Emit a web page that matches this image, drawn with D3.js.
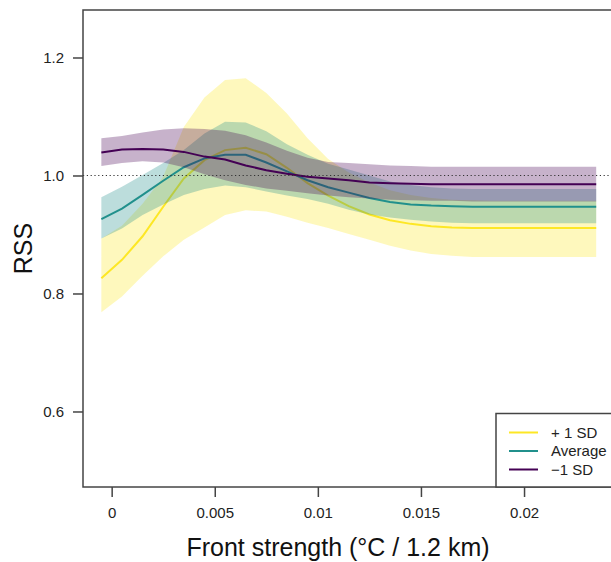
<!DOCTYPE html>
<html lang="en">
<head>
    <meta charset="UTF-8">
    <title>RSS vs front strength</title>
    <script src="https://d3js.org/d3.v7.min.js"></script>
    <style>
        body { margin: 0; background: #fff; font-family: "Liberation Sans", Arial, sans-serif; }
        svg { display: block; }
        .tick-label { font-size: 15px; fill: #222; }
        .axis-title { font-size: 25px; fill: #111; }
        .legend-text { font-size: 15px; fill: #222; }
    </style>
</head>
<body>
    <svg width="611" height="562"></svg>

    <script>
        // front strength grid (°C / 1.2 km)
        const xs = [-0.0005, 0.0005, 0.0015, 0.0025, 0.0035, 0.0045, 0.0055, 0.0065, 0.0075, 0.0085,
                    0.0095, 0.0105, 0.0115, 0.0125, 0.0135, 0.0145, 0.0155, 0.0165, 0.0175, 0.0185,
                    0.0195, 0.0205, 0.0215, 0.0225, 0.0235];

        // + 1 SD
        const plusMean = [0.826, 0.857, 0.897, 0.947, 0.995, 1.026, 1.043, 1.047, 1.036, 1.013,
                          0.987, 0.966, 0.948, 0.934, 0.924, 0.918, 0.914, 0.912, 0.911, 0.911,
                          0.911, 0.911, 0.911, 0.911, 0.911];
        const plusHi = [0.893, 0.915, 0.952, 0.998, 1.082, 1.132, 1.162, 1.165, 1.140, 1.105,
                        1.063, 1.028, 1.005, 0.988, 0.975, 0.967, 0.962, 0.959, 0.958, 0.957,
                        0.957, 0.957, 0.957, 0.957, 0.957];
        const plusLo = [0.768, 0.795, 0.830, 0.863, 0.891, 0.912, 0.933, 0.941, 0.939, 0.930,
                        0.920, 0.911, 0.901, 0.891, 0.881, 0.873, 0.867, 0.864, 0.862, 0.862,
                        0.862, 0.862, 0.862, 0.862, 0.862];

        // Average
        const avgMean = [0.926, 0.944, 0.967, 0.991, 1.014, 1.029, 1.035, 1.035, 1.022, 1.007,
                         0.992, 0.980, 0.971, 0.962, 0.955, 0.951, 0.949, 0.948, 0.947, 0.947,
                         0.947, 0.947, 0.947, 0.947, 0.947];
        const avgHi = [0.963, 0.981, 1.001, 1.021, 1.043, 1.071, 1.091, 1.090, 1.075, 1.053,
                       1.035, 1.020, 1.010, 1.000, 0.990, 0.984, 0.980, 0.978, 0.977, 0.977,
                       0.977, 0.977, 0.977, 0.977, 0.977];
        const avgLo = [0.893, 0.910, 0.933, 0.951, 0.967, 0.977, 0.983, 0.980, 0.973, 0.966,
                       0.960, 0.952, 0.942, 0.934, 0.929, 0.925, 0.922, 0.920, 0.919, 0.919,
                       0.919, 0.919, 0.919, 0.919, 0.919];

        // -1 SD
        const minusMean = [1.039, 1.044, 1.045, 1.044, 1.040, 1.032, 1.027, 1.017, 1.009, 1.003,
                           0.998, 0.995, 0.992, 0.988, 0.987, 0.986, 0.985, 0.985, 0.985, 0.985,
                           0.985, 0.985, 0.985, 0.985, 0.985];
        const minusHi = [1.063, 1.067, 1.073, 1.078, 1.080, 1.079, 1.076, 1.068, 1.056, 1.042,
                         1.030, 1.023, 1.021, 1.019, 1.017, 1.016, 1.015, 1.015, 1.015, 1.015,
                         1.015, 1.015, 1.015, 1.015, 1.015];
        const minusLo = [1.016, 1.021, 1.024, 1.022, 1.014, 1.002, 0.992, 0.984, 0.978, 0.974,
                         0.970, 0.966, 0.963, 0.961, 0.959, 0.958, 0.957, 0.957, 0.956, 0.956,
                         0.956, 0.956, 0.956, 0.956, 0.956];

        const xTicks = [0, 0.005, 0.01, 0.015, 0.02];
        const xTickLabels = ["0", "0.005", "0.01", "0.015", "0.02"];
        const yTicks = [0.6, 0.8, 1.0, 1.2];
        const yTickLabels = ["0.6", "0.8", "1.0", "1.2"];

        const series = [
            { name: "+ 1 SD", color: "#FDE725", mean: plusMean, lo: plusLo, hi: plusHi },
            { name: "Average", color: "#21908C", mean: avgMean, lo: avgLo, hi: avgHi },
            { name: "\u22121 SD", color: "#440154", mean: minusMean, lo: minusLo, hi: minusHi }
        ];

        const svg = d3.select("svg");
        const plotL = 83, plotR = 616, plotT = 10, plotB = 487;

        const x = d3.scaleLinear().domain([-0.00139, 0.02446]).range([plotL, plotR]);
        const y = d3.scaleLinear().domain([0.472, 1.2805]).range([plotB, plotT]);

        const area = d3.area().x((d, i) => x(xs[i])).y0(d => y(d[0])).y1(d => y(d[1]));
        const line = d3.line().x((d, i) => x(xs[i])).y(d => y(d));

        // bands + lines, yellow first so purple sits on top
        series.forEach(s => {
            svg.append("path")
                .datum(s.lo.map((v, i) => [v, s.hi[i]]))
                .attr("d", area)
                .attr("fill", s.color)
                .attr("fill-opacity", 0.3);
            svg.append("path")
                .datum(s.mean)
                .attr("d", line)
                .attr("fill", "none")
                .attr("stroke", s.color)
                .attr("stroke-width", 2);
        });

        // reference line at RSS = 1
        svg.append("line")
            .attr("x1", plotL).attr("x2", plotR)
            .attr("y1", y(1)).attr("y2", y(1))
            .attr("stroke", "#333").attr("stroke-width", 1.2)
            .attr("stroke-dasharray", "1.2,2.6");

        // frame
        svg.append("rect")
            .attr("x", plotL).attr("y", plotT)
            .attr("width", plotR - plotL).attr("height", plotB - plotT)
            .attr("fill", "none").attr("stroke", "#444").attr("stroke-width", 1.5);

        // x axis
        const xAxis = svg.append("g").attr("transform", `translate(0,${plotB})`)
            .call(d3.axisBottom(x).tickValues(xTicks).tickSize(10).tickFormat((d, i) => xTickLabels[i]));
        xAxis.select(".domain").remove();
        xAxis.selectAll(".tick line").attr("stroke", "#444").attr("stroke-width", 1.5);
        xAxis.selectAll(".tick text").attr("class", "tick-label").attr("y", 20).attr("dy", "0.71em")
            .style("font-family", "'Liberation Sans', Arial, sans-serif");

        // y axis
        const yAxis = svg.append("g").attr("transform", `translate(${plotL},0)`)
            .call(d3.axisLeft(y).tickValues(yTicks).tickSize(10).tickFormat((d, i) => yTickLabels[i]));
        yAxis.select(".domain").remove();
        yAxis.selectAll(".tick line").attr("stroke", "#444").attr("stroke-width", 1.5);
        yAxis.selectAll(".tick text").attr("class", "tick-label").attr("x", -19)
            .style("font-family", "'Liberation Sans', Arial, sans-serif");

        // titles
        svg.append("text").attr("class", "axis-title")
            .attr("x", 338).attr("y", 556).attr("text-anchor", "middle")
            .text("Front strength (\u00B0C / 1.2 km)");
        svg.append("text").attr("class", "axis-title")
            .attr("transform", `translate(31.5,${(plotT + plotB) / 2}) rotate(-90)`)
            .attr("text-anchor", "middle")
            .text("RSS");

        // legend
        const legend = svg.append("g");
        legend.append("rect")
            .attr("x", 496).attr("y", 413.5).attr("width", 130).attr("height", plotB - 413.5)
            .attr("fill", "#fff").attr("stroke", "#444").attr("stroke-width", 1.5);
        const legendY = [432.5, 451, 469.5];
        series.forEach((s, i) => {
            legend.append("line")
                .attr("x1", 509).attr("x2", 538)
                .attr("y1", legendY[i]).attr("y2", legendY[i])
                .attr("stroke", s.color).attr("stroke-width", 2);
            legend.append("text").attr("class", "legend-text")
                .attr("x", 551).attr("y", legendY[i]).attr("dy", "0.35em")
                .text(s.name);
        });
    </script>
</body>
</html>
